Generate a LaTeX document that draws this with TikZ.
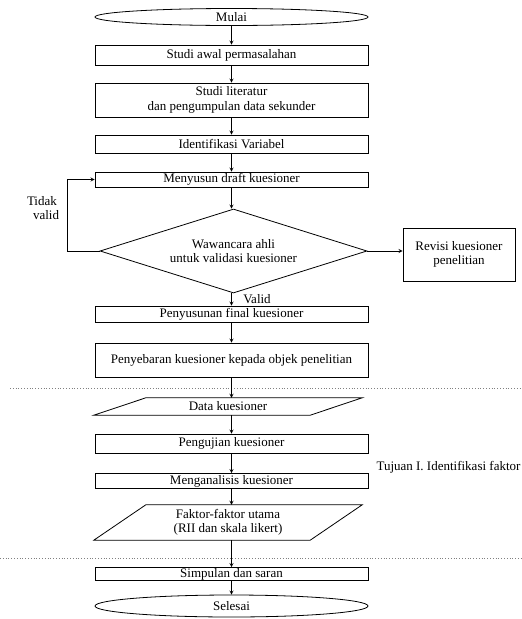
\documentclass[tikz,border=0pt]{standalone}
\usepackage{fontspec}
\setmainfont{Liberation Serif}
\usetikzlibrary{positioning}
\usetikzlibrary{arrows}
\usetikzlibrary{shapes.geometric}
\newcommand{\flowfont}{\fontsize{13}{14.5}\selectfont}
\tikzset{
  process/.style={rectangle,draw,line width=0.8pt,
                  minimum width=273pt,inner sep=0pt,
                  align=center,font=\flowfont},
  terminal/.style={ellipse,draw,line width=0.8pt,
                   minimum width=273pt,inner sep=0pt,font=\flowfont},
  decision/.style={diamond,draw,line width=0.8pt,aspect=3.2,
                   minimum width=267pt,minimum height=84pt,
                   inner sep=0pt,align=center,font=\flowfont},
  dataio/.style={rectangle,minimum width=216pt,inner sep=0pt,
                 align=center,font=\flowfont},
  slanted/.style={line width=0.8pt},
  flow/.style={>=stealth,line width=0.8pt,->},
  divider/.style={dotted,line width=0.8pt,gray},
  remark/.style={align=center,font=\flowfont},
}
\begin{document}
\begin{tikzpicture}[x=1pt,y=-1pt]
  \useasboundingbox (0,0) rectangle (522,619);

  \node[terminal] (mulai) at (231.5,17) [minimum height=17pt] {Mulai};
  \node[process] (awal) at (231.5,55) [minimum height=20pt] {Studi awal permasalahan};
  \node[process] (literatur) at (231.5,100) [minimum height=34pt]
      {Studi literatur\\dan pengumpulan data sekunder};
  \node[process] (variabel) at (231.5,144) [minimum height=18pt] {Identifikasi Variabel};
  \node[process] (draft) at (231.5,179.5) [minimum height=15pt] {Menyusun draft kuesioner};
  \node[decision] (wawancara) at (233.5,251)
      {Wawancara ahli\\untuk validasi kuesioner};
  \node[process] (revisi) at (459,254.5) [minimum width=112pt,minimum height=53pt]
      {Revisi kuesioner\\penelitian};
  \node[process] (final) at (231.5,314) [minimum height=16pt] {Penyusunan final kuesioner};
  \node[process] (sebar) at (231.5,360) [minimum height=34pt]
      {Penyebaran kuesioner kepada objek penelitian};
  \node[dataio] (data) at (228,406.5) [minimum height=17pt] {Data kuesioner};
  \node[process] (uji) at (231.5,443.5) [minimum height=19pt] {Pengujian kuesioner};
  \node[process] (analisis) at (231.5,481) [minimum height=15pt] {Menganalisis kuesioner};
  \node[dataio] (faktor) at (228,522.5) [minimum height=35pt]
      {Faktor-faktor utama\\(RII dan skala likert)};
  \node[process] (simpulan) at (231.5,574) [minimum height=13pt] {Simpulan dan saran};
  \node[terminal] (selesai) at (231.5,606) [minimum height=22pt] {Selesai};

  \node[remark,align=left] (tidak) at (43,208) {Tidak\\\hspace*{6pt}valid};
  \node[remark] (valid) at (257,299) {Valid};
  \node[remark,anchor=west] (tujuan) at (373,467) {Tujuan I. Identifikasi faktor};

  % input/output boxes
  \draw[slanted] ([xshift=26pt]data.north west) -- ([xshift=26pt]data.north east)
      -- ([xshift=-26pt]data.south east) -- ([xshift=-26pt]data.south west) -- cycle;
  \draw[slanted] ([xshift=26pt]faktor.north west) -- ([xshift=26pt]faktor.north east)
      -- ([xshift=-26pt]faktor.south east) -- ([xshift=-26pt]faktor.south west) -- cycle;

  % stage borders
  \coordinate (cut1l) at (10,388);
  \coordinate (cut1r) at (522,388);
  \coordinate (cut2l) at (0,558);
  \coordinate (cut2r) at (522,558);
  \draw[divider] (cut1l) -- (cut1r);
  \draw[divider] (cut2l) -- (cut2r);

  \draw[flow] (mulai) -- (awal);
  \draw[flow] (awal) -- (literatur);
  \draw[flow] (literatur) -- (variabel);
  \draw[flow] (variabel) -- (draft);
  \draw[flow] (draft.south) -- (draft.south |- wawancara.north);
  \draw[flow] (wawancara.west) -- ++(-32,0) |- (draft.west);
  \draw[flow] (wawancara.east) -- (wawancara.east -| revisi.west);
  \draw[flow] (wawancara.south -| final.north) -- (final.north);
  \draw[flow] (final) -- (sebar);
  \draw[flow] (sebar.south) -- (sebar.south |- data.north);
  \draw[flow] (data.south -| uji.north) -- (uji.north);
  \draw[flow] (uji) -- (analisis);
  \draw[flow] (analisis.south) -- (analisis.south |- faktor.north);
  \draw[flow] (faktor.south -| simpulan.north) -- (simpulan.north);
  \draw[flow] (simpulan) -- (selesai);
\end{tikzpicture}
\end{document}
